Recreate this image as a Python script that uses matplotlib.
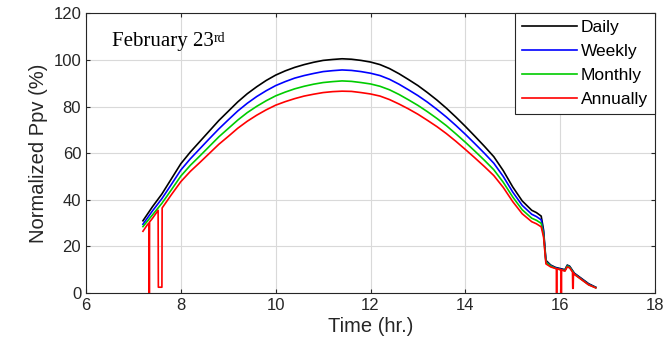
import matplotlib
matplotlib.use("Agg")
import matplotlib.pyplot as plt

plt.rcParams["font.family"] = ["Liberation Sans", "DejaVu Sans"]

# ── Data ──────────────────────────────────────────────────────────────────────
t_main = [7.2, 7.4, 7.6, 7.8, 8.0, 8.2, 8.4, 8.6, 8.8, 9.0, 9.2, 9.4, 9.6, 9.8,
          10.0, 10.2, 10.4, 10.6, 10.8, 11.0, 11.2, 11.4, 11.6, 11.8, 12.0,
          12.2, 12.4, 12.6, 12.8, 13.0, 13.2, 13.4, 13.6, 13.8, 14.0, 14.2,
          14.4, 14.6, 14.8, 15.0, 15.2, 15.4, 15.5, 15.6, 15.65, 15.7, 15.8,
          15.9, 16.0, 16.1, 16.15, 16.2, 16.3, 16.4, 16.5, 16.6, 16.75]

daily = [31, 37, 42.5, 49, 55.5, 60.5, 65, 69.5, 74, 78, 82, 85.5, 88.5, 91.2,
         93.5, 95.3, 96.8, 98, 99, 99.8, 100.2, 100.5, 100.3, 99.8, 99.1,
         98, 96.3, 94.1, 91.6, 89, 86, 82.8, 79.3, 75.5, 71.5, 67.3,
         63, 58.5, 52.5, 45.5, 39.5, 35.5, 34.5, 33, 27, 14, 12,
         11, 10.5, 10, 12, 11.5, 8.5, 7, 5.5, 4, 2.5]

weekly = [29.5, 35.2, 40.5, 46.6, 52.8, 57.6, 61.9, 66.2, 70.4, 74.3, 78.1, 81.4, 84.3, 86.8,
          89.0, 90.7, 92.2, 93.3, 94.2, 95.0, 95.4, 95.7, 95.5, 95.0, 94.3,
          93.3, 91.7, 89.6, 87.2, 84.7, 81.9, 78.8, 75.5, 71.9, 68.1, 64.1,
          60.0, 55.7, 50.0, 43.3, 37.6, 33.8, 32.8, 31.4, 26, 13.5, 11.8,
          10.8, 10.3, 9.8, 11.8, 11.3, 8.3, 6.8, 5.3, 3.8, 2.4]

monthly = [28.5, 33.5, 38.5, 44.3, 50.2, 54.8, 58.8, 62.9, 67.0, 70.6, 74.2, 77.4, 80.1, 82.5,
           84.6, 86.2, 87.6, 88.7, 89.6, 90.3, 90.7, 91.0, 90.8, 90.3, 89.7,
           88.7, 87.2, 85.2, 82.9, 80.5, 77.8, 74.9, 71.8, 68.3, 64.7, 60.9,
           57.0, 52.9, 47.5, 41.2, 35.7, 32.1, 31.2, 29.9, 25, 13.2, 11.6,
           10.6, 10.1, 9.6, 11.6, 11.1, 8.1, 6.6, 5.1, 3.6, 2.3]

t_annual = [7.2, 7.3, 7.33, 7.335, 7.34, 7.4, 7.52, 7.525, 7.6, 7.605, 7.8,
            8.0, 8.2, 8.4, 8.6, 8.8, 9.0, 9.2, 9.4, 9.6, 9.8,
            10.0, 10.2, 10.4, 10.6, 10.8, 11.0, 11.2, 11.4, 11.6, 11.8, 12.0,
            12.2, 12.4, 12.6, 12.8, 13.0, 13.2, 13.4, 13.6, 13.8, 14.0, 14.2,
            14.4, 14.6, 14.8, 15.0, 15.2, 15.4, 15.5, 15.6, 15.65, 15.7, 15.8,
            15.92, 15.925, 15.93, 16.0, 16.02, 16.025, 16.03, 16.1, 16.15, 16.2,
            16.26, 16.265, 16.275, 16.28, 16.3, 16.4, 16.5, 16.6, 16.75]

annually = [26.5, 29.5, 30, 0, 30.5, 32, 35.5, 2.5, 2.5, 36.5, 42.2,
            47.8, 52.2, 56.0, 59.9, 63.8, 67.2, 70.7, 73.7, 76.3, 78.6,
            80.6, 82.1, 83.4, 84.5, 85.3, 86.0, 86.4, 86.6, 86.5, 86.0, 85.4,
            84.5, 83.0, 81.1, 79.0, 76.7, 74.1, 71.4, 68.4, 65.1, 61.6, 58.0,
            54.3, 50.4, 45.3, 39.2, 34.0, 30.6, 29.7, 28.4, 24, 12.5, 11.2,
            10.4, 0, 10.4, 10, 9.9, 0, 9.9, 9.4, 11.2, 10.8,
            9, 2, 2, 8.6, 8, 6.5, 5, 3.5, 2.2]

SERIES = [
    ("Daily", t_main, daily, "black"),
    ("Weekly", t_main, weekly, "#0000FF"),
    ("Monthly", t_main, monthly, "#00CC00"),
    ("Annually", t_annual, annually, "#FF0000"),
]

# ── Figure ────────────────────────────────────────────────────────────────────
fig = plt.figure(figsize=(6.67, 3.6), dpi=100)
ax = fig.add_axes([0.129, 0.186, 0.853, 0.777])

for label, t, y, c in SERIES:
    ax.plot(t, y, color=c, lw=1.2, label=label)

ax.set_xlim(6, 18)
ax.set_ylim(0, 120)
ax.set_xticks(range(6, 19, 2))
ax.set_yticks(range(0, 121, 20))
ax.grid(True, color="#d9d9d9", lw=0.8)
ax.set_axisbelow(True)
ax.tick_params(direction="in", top=True, right=True, length=3,
               labelsize=12, colors="#262626")
for sp in ax.spines.values():
    sp.set_color("#262626")
    sp.set_linewidth(0.8)

ax.set_xlabel("Time (hr.)", fontsize=14.5, color="#262626", labelpad=3)
ax.set_ylabel("Normalized Ppv (%)", fontsize=14.5, color="#262626", labelpad=4)

t1 = ax.text(0.045, 0.935, "February 23", transform=ax.transAxes,
             fontsize=15, family="Liberation Serif", va="top", ha="left")
ax.annotate("rd", xy=(1.0, 1.0), xycoords=t1, fontsize=10,
            family="Liberation Serif", va="top", ha="left")

leg = ax.legend(loc="upper right", borderaxespad=0, fontsize=12.5,
                fancybox=False, framealpha=1, edgecolor="#262626",
                handlelength=3.2, handletextpad=0.2, labelspacing=0.5,
                borderpad=0.4)
leg.get_frame().set_linewidth(0.8)

fig.savefig("out.png", dpi=100)
